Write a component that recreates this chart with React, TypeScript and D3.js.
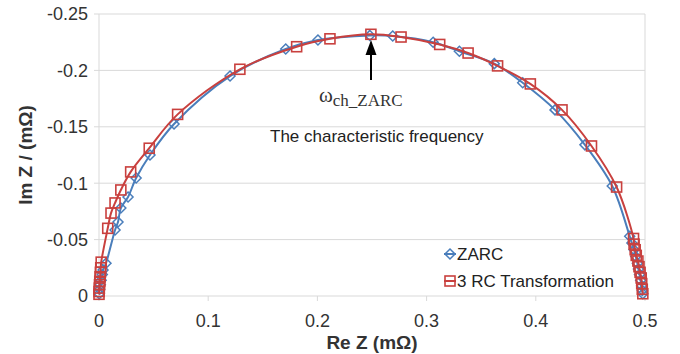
import React from 'react'
import * as d3 from 'd3'

// ZARC impedance (Re, Im) in mOhm
const zarcRe = [0.0002, 0.0006, 0.0012, 0.002, 0.003, 0.0037, 0.0064, 0.0147, 0.0174, 0.020, 0.0266, 0.034, 0.0467, 0.0687, 0.120, 0.171, 0.2005, 0.248, 0.269, 0.306, 0.330, 0.362, 0.388, 0.4176, 0.445, 0.470, 0.486, 0.488, 0.490, 0.4915, 0.493, 0.494, 0.495, 0.496, 0.497, 0.4975, 0.498]
const zarcIm = [-0.002, -0.006, -0.010, -0.014, -0.019, -0.023, -0.029, -0.0585, -0.0656, -0.078, -0.0878, -0.1046, -0.125, -0.1525, -0.195, -0.219, -0.227, -0.231, -0.2305, -0.225, -0.217, -0.206, -0.189, -0.165, -0.134, -0.0975, -0.053, -0.047, -0.041, -0.035, -0.029, -0.024, -0.019, -0.014, -0.009, -0.005, -0.002]

// 3 RC transformation
const rcRe = [0.0, 0.0001, 0.0003, 0.0005, 0.0007, 0.001, 0.0013, 0.0016, 0.002, 0.008, 0.011, 0.0147, 0.020, 0.029, 0.046, 0.072, 0.129, 0.181, 0.2115, 0.249, 0.2766, 0.312, 0.338, 0.365, 0.395, 0.424, 0.451, 0.474, 0.4895, 0.490, 0.491, 0.492, 0.4935, 0.4945, 0.4955, 0.4965, 0.497, 0.4975, 0.498]
const rcIm = [-0.0015, -0.004, -0.007, -0.010, -0.013, -0.017, -0.021, -0.025, -0.030, -0.060, -0.0735, -0.0825, -0.094, -0.110, -0.131, -0.161, -0.201, -0.221, -0.228, -0.232, -0.2296, -0.223, -0.2154, -0.204, -0.188, -0.165, -0.133, -0.0966, -0.051, -0.046, -0.041, -0.036, -0.031, -0.026, -0.021, -0.016, -0.011, -0.006, -0.002]

const xTicks = [0, 0.1, 0.2, 0.3, 0.4, 0.5]
const yTicks = [0, -0.05, -0.1, -0.15, -0.2, -0.25]
const seriesNames = ['ZARC', '3 RC Transformation']

const BLUE = '#4a7ebb'
const RED = '#c9403e'
const GRID = '#d9d9d9'
const TEXT = '#333'

export default function App() {
  const x = d3.scaleLinear().domain([0, 0.5]).range([99, 645])
  const y = d3.scaleLinear().domain([0, -0.25]).range([296, 14])

  const zarc = zarcRe.map((r, i) => [r, zarcIm[i]])
  const rc = rcRe.map((r, i) => [r, rcIm[i]])

  const line = d3.line<number[]>()
    .x(d => x(d[0]))
    .y(d => y(d[1]))
    .curve(d3.curveCatmullRom.alpha(0.5))

  const diamond = (cx: number, cy: number, r = 5) =>
    `M${cx},${cy - r}L${cx + r},${cy}L${cx},${cy + r}L${cx - r},${cy}Z`

  const font = 'Liberation Sans, Arial, sans-serif'
  const ax = 371 // arrow x, the characteristic point

  return (
    <svg width={680} height={354} style={{ position: 'absolute', left: 0, top: 0, background: '#fff' }}
      fontFamily={font}>
      {/* gridlines */}
      {yTicks.map(t => (
        <line key={'g' + t} x1={x(0) - 5} x2={x(0.5)} y1={y(t)} y2={y(t)} stroke={GRID} strokeWidth={1} />
      ))}
      <line x1={x(0)} x2={x(0)} y1={y(-0.25)} y2={y(0)} stroke={GRID} />
      <line x1={x(0.5)} x2={x(0.5)} y1={y(-0.25)} y2={y(0)} stroke={GRID} />
      {xTicks.map(t => (
        <line key={'xt' + t} x1={x(t)} x2={x(t)} y1={y(0)} y2={y(0) + 5} stroke={GRID} />
      ))}

      {/* tick labels */}
      {yTicks.map(t => (
        <text key={'yl' + t} x={88} y={y(t)} dy="0.35em" textAnchor="end" fontSize={18} fill={TEXT}>
          {t === 0 ? '0' : String(t)}
        </text>
      ))}
      {xTicks.map(t => (
        <text key={'xl' + t} x={x(t)} y={327} textAnchor="middle" fontSize={18} fill={TEXT}>
          {String(t)}
        </text>
      ))}

      {/* axis titles */}
      <text x={x(0.25)} y={349} textAnchor="middle" fontSize={19} fontWeight="bold" fill={TEXT}>Re Z (mΩ)</text>
      <text transform={`translate(32,155) rotate(-90)`} textAnchor="middle" fontSize={19} fontWeight="bold" fill={TEXT}>Im Z / (mΩ)</text>

      {/* series */}
      <path d={line(zarc) || ''} fill="none" stroke={BLUE} strokeWidth={2} />
      {zarc.map((d, i) => (
        <path key={'zd' + i} d={diamond(x(d[0]), y(d[1]))} fill="none" stroke={BLUE} strokeWidth={1.5} />
      ))}
      <path d={line(rc) || ''} fill="none" stroke={RED} strokeWidth={2} />
      {rc.map((d, i) => (
        <rect key={'rs' + i} x={x(d[0]) - 5} y={y(d[1]) - 5} width={10} height={10} fill="none" stroke={RED} strokeWidth={1.6} />
      ))}

      {/* annotation */}
      <line x1={ax} x2={ax} y1={80} y2={52} stroke="#000" strokeWidth={2} />
      <path d={`M${ax},40L${ax + 5.5},55L${ax - 5.5},55Z`} fill="#000" />
      <text x={319} y={102} fontFamily="Liberation Serif, Times New Roman, serif" fontSize={21} fill={TEXT}>
        ω<tspan dy={4} fontSize={17}>ch_ZARC</tspan>
      </text>
      <text x={270} y={142} fontSize={17} fill="#222">The characteristic frequency</text>

      {/* legend */}
      <line x1={444} x2={456} y1={254} y2={254} stroke={BLUE} strokeWidth={2} />
      <path d={diamond(450, 254)} fill="none" stroke={BLUE} strokeWidth={1.5} />
      <text x={457} y={260} fontSize={17} fill="#222">{seriesNames[0]}</text>
      <line x1={444} x2={456} y1={281} y2={281} stroke={RED} strokeWidth={2} />
      <rect x={445} y={276} width={10} height={10} fill="none" stroke={RED} strokeWidth={1.6} />
      <text x={457} y={287} fontSize={17} fill="#222">{seriesNames[1]}</text>
    </svg>
  )
}
